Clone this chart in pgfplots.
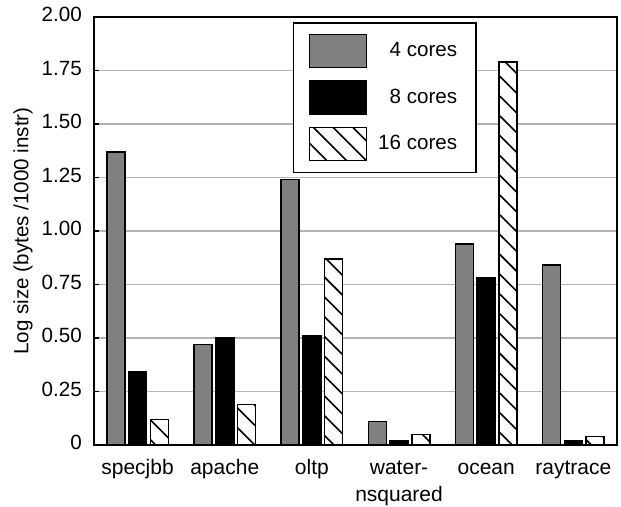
\documentclass[border=0pt]{standalone}
\usepackage{fontspec}
\setmainfont{Liberation Sans}
\usepackage{pgfplots}
\pgfplotsset{compat=1.18}
\usetikzlibrary{patterns.meta}
\definecolor{bargray}{HTML}{808080}
\definecolor{gridgray}{HTML}{B4B4B4}
\begin{document}
\begin{tikzpicture}
\useasboundingbox (-47pt,-31pt) rectangle (263.5pt,222.5pt);
\begin{axis}[
  scale only axis, width=261.5pt, height=214pt,
  xmin=-0.5, xmax=5.5, ymin=0, ymax=2,
  ybar, bar width=0.207, bar shift=0pt,
  xtick={0,1,2,3,4,5},
  xticklabels={specjbb,apache,oltp,{water-\\nsquared},ocean,raytrace},
  xticklabel style={align=center, font=\fontsize{10.5}{13.5}\selectfont, yshift=-2pt},
  x tick style={draw=none},
  ytick={0,0.25,0.5,0.75,1,1.25,1.5,1.75,2},
  yticklabels={0,0.25,0.50,0.75,1.00,1.25,1.50,1.75,2.00},
  yticklabel style={font=\fontsize{10.3}{12}\selectfont, xshift=-2.6pt},
  typeset ticklabels with strut,
  ytick pos=left, xtick pos=bottom,
  tick align=inside, major tick length=2.5pt,
  y tick style={black, line width=0.6pt},
  ymajorgrids, grid style={gridgray, line width=0.75pt},
  axis line style={black, line width=0.75pt},
  ylabel={Log size (bytes /1000 instr)},
  ylabel style={at={(axis description cs:0,0.5)}, anchor=center, yshift=35.5pt, font=\fontsize{10.3}{12}\selectfont},
  legend image code/.code={\draw[#1] (0pt,-8.25pt) rectangle (28.5pt,8.25pt);},
  legend style={at={(rel axis cs:0.3805,0.988)}, anchor=north west, draw=black, line width=0.75pt, fill=white,
    inner xsep=7.5pt, inner ysep=5.5pt, row sep=6pt, font=\fontsize{10.3}{12}\selectfont},
]
\addplot[fill=bargray, draw=black, line width=0.75pt] coordinates {(-0.25,1.37) (0.75,0.47) (1.75,1.24) (2.75,0.11) (3.75,0.94) (4.75,0.84)};
\addlegendentry{\makebox[43pt][r]{4 cores}\hspace{3pt}}
\addplot[fill=black, draw=black, line width=0.75pt] coordinates {(0,0.34) (1,0.50) (2,0.51) (3,0.02) (4,0.78) (5,0.02)};
\addlegendentry{\makebox[43pt][r]{8 cores}\hspace{3pt}}
\addplot[fill=white, draw=black, line width=0.75pt, postaction={pattern={Lines[angle=-45,distance=7pt,line width=0.8pt]}}] coordinates {(0.25,0.12) (1.25,0.19) (2.25,0.87) (3.25,0.05) (4.25,1.79) (5.25,0.04)};
\addlegendentry{\makebox[43pt][r]{16 cores}\hspace{3pt}}
\addplot[fill=black, draw=black, line width=0.75pt, forget plot] coordinates {(0.5,0) (1.5,0) (2.5,0) (3.5,0) (4.5,0) (5.5,0)};
\end{axis}
\end{tikzpicture}
\end{document}
